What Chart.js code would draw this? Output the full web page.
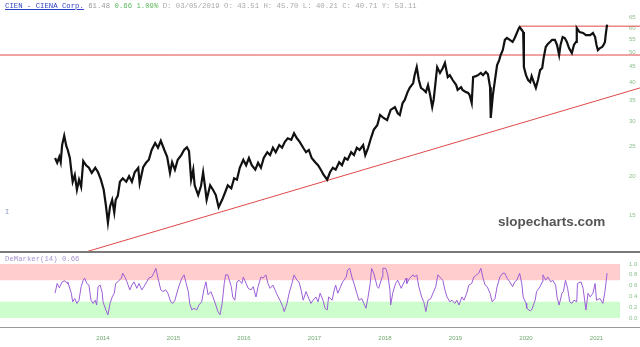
<!DOCTYPE html>
<html><head><meta charset="utf-8">
<script src="https://cdn.jsdelivr.net/npm/chart.js@4.4.1/dist/chart.umd.min.js"></script>
<style>
html,body{margin:0;padding:0;background:#fff}
body{width:640px;height:347px;overflow:hidden;position:relative}
#topWrap{position:absolute;left:0;top:0;width:640px;height:253px}
#botWrap{position:absolute;left:0;top:253px;width:640px;height:94px}
.sep1{position:absolute;left:0;top:251px;width:640px;height:2px;background:#7a7a7a}
.sep2{position:absolute;left:0;top:327px;width:640px;height:1px;background:#9a9a9a}
#hdr{position:absolute;left:5px;top:1px;font:7.3px "Liberation Mono",monospace;white-space:pre;line-height:10px}
#dem{position:absolute;left:5px;top:254px;font:7.3px "Liberation Mono",monospace;white-space:pre;color:#a994d4;line-height:10px}
#wm{position:absolute;left:498px;top:213px;font:bold 13.5px "Liberation Sans",Arial,sans-serif;color:#555;line-height:18px}
#cur{position:absolute;left:5px;top:208px;font:7px "Liberation Mono",monospace;color:#8a93c0}
</style></head>
<body>
<div id="topWrap"><canvas id="top" width="640" height="253"></canvas></div>
<div id="botWrap"><canvas id="bot" width="640" height="94"></canvas></div>
<div class="sep1"></div><div class="sep2"></div>
<div id="hdr"><span style="color:#2b3fc4;text-decoration:underline">CIEN - CIENA Corp.</span> <span style="color:#999">61.48</span> <span style="color:#5cb85c">0.66 1.09%</span> <span style="color:#aaa">D: 03/05/2019 O: 43.51 H: 45.70 L: 40.21 C: 40.71 Y: 53.11</span></div>
<div id="dem">DeMarker(14) 0.66</div>
<div id="wm">slopecharts.com</div>
<div id="cur">I</div>
<script>
// ---- data (decimal years / price) ----
const priceDates = [
2013.32,2013.35,2013.38,2013.40,2013.42,2013.45,2013.48,2013.50,2013.53,2013.56,2013.57,2013.60,2013.63,2013.66,2013.69,2013.72,2013.76,2013.80,2013.84,2013.89,2013.93,2013.97,
2014.01,2014.04,2014.07,2014.10,2014.13,2014.16,2014.18,2014.21,2014.24,2014.28,2014.33,2014.37,2014.41,2014.45,2014.50,2014.52,2014.57,2014.61,2014.65,2014.69,2014.74,2014.78,2014.82,2014.87,2014.91,2014.95,2014.98,
2015.02,2015.06,2015.11,2015.15,2015.19,2015.22,2015.25,2015.28,2015.30,2015.35,2015.39,2015.42,2015.45,2015.47,2015.52,2015.56,2015.60,2015.64,2015.69,2015.73,2015.77,2015.82,2015.86,2015.90,2015.94,2015.99,
2016.03,2016.07,2016.11,2016.16,2016.20,2016.24,2016.28,2016.33,2016.37,2016.41,2016.45,2016.50,2016.54,2016.58,2016.62,2016.67,2016.71,2016.75,2016.79,2016.84,2016.88,2016.92,2016.96,
2017.01,2017.05,2017.09,2017.13,2017.18,2017.22,2017.26,2017.30,2017.35,2017.39,2017.43,2017.47,2017.52,2017.56,2017.60,2017.64,2017.69,2017.72,2017.76,2017.80,2017.84,2017.89,2017.93,2017.98,
2018.03,2018.08,2018.14,2018.18,2018.21,2018.25,2018.28,2018.32,2018.35,2018.40,2018.42,2018.45,2018.48,2018.51,2018.55,2018.58,2018.61,2018.64,2018.67,2018.69,2018.74,2018.78,2018.82,2018.85,2018.89,2018.92,2018.96,
2019.01,2019.03,2019.08,2019.10,2019.15,2019.18,2019.20,2019.23,2019.25,2019.29,2019.32,2019.36,2019.39,2019.43,2019.46,2019.49,2019.50,2019.53,2019.56,2019.59,2019.62,2019.64,2019.67,2019.70,2019.73,2019.77,2019.81,2019.84,2019.87,2019.90,2019.91,2019.94,2019.96,2019.97,
2020.00,2020.03,2020.06,2020.08,2020.11,2020.14,2020.17,2020.20,2020.23,2020.25,2020.28,2020.31,2020.34,2020.37,2020.41,2020.44,2020.47,2020.49,2020.52,2020.55,2020.58,2020.61,2020.65,2020.68,2020.71,2020.72,2020.76,2020.81,2020.85,2020.91,2020.95,2020.98,
2021.00,2021.02,2021.05,2021.08,2021.10,2021.12,2021.13,2021.15
];
const priceValues = [
22.9,22.1,23.1,22.2,25.2,27.0,25.0,24.3,22.9,20.0,19.2,20.2,18.1,19.5,18.5,22.4,21.7,21.3,20.5,21.3,20.6,19.5,
18.1,16.2,14.2,16.0,16.8,15.3,16.8,17.3,19.2,19.7,19.2,20.0,19.2,20.6,21.3,19.0,21.4,22.1,22.6,24.3,25.6,24.7,26.0,24.3,23.1,20.5,22.2,
21.0,22.6,23.4,24.3,24.8,24.1,19.5,21.0,18.7,17.4,18.6,20.6,18.3,16.8,18.7,18.1,17.4,15.9,16.8,17.7,18.7,18.3,19.7,19.5,21.3,22.6,
21.7,22.9,21.7,21.0,22.1,21.3,22.9,23.9,23.4,24.7,23.9,25.2,24.7,25.8,26.5,26.2,27.5,26.5,25.8,24.7,23.9,24.3,22.9,
22.2,21.7,21.0,20.2,19.5,20.6,21.3,21.0,22.2,21.7,22.9,22.6,23.9,23.4,24.7,24.3,25.2,23.4,24.7,26.5,28.2,29.2,31.5,30.8,
30.3,32.7,33.4,31.9,31.5,34.4,35.2,37.3,38.5,39.9,42.3,44.9,40.8,38.5,37.9,37.3,39.3,36.5,33.4,35.2,44.9,43.0,44.6,46.3,41.7,42.3,40.8,
39.3,37.9,38.7,37.9,37.3,37.1,36.5,34.4,41.7,42.0,42.3,43.0,42.3,43.3,42.6,38.7,30.8,36.5,40.8,45.6,47.3,49.1,50.9,54.9,55.7,54.9,54.1,55.7,57.8,60.0,60.4,59.1,58.2,44.9,
42.3,40.8,40.2,42.0,40.2,38.5,40.8,43.9,44.6,48.0,52.1,53.3,54.1,54.9,54.9,52.9,49.1,52.9,56.1,55.7,54.1,51.7,49.8,52.9,54.1,60.0,58.2,57.8,56.9,56.9,57.8,56.1,
52.9,50.9,51.7,52.1,52.9,54.1,56.9,61.48
];
const demDates = [
2013.32,2013.35,2013.38,2013.42,2013.46,2013.49,2013.50,2013.55,2013.57,2013.60,2013.63,2013.66,2013.69,2013.72,2013.74,2013.77,2013.80,2013.83,2013.86,2013.89,2013.91,2013.93,2013.96,2013.99,
2014.00,2014.04,2014.07,2014.10,2014.13,2014.16,2014.18,2014.21,2014.26,2014.28,2014.31,2014.34,2014.38,2014.41,2014.44,2014.48,2014.51,2014.55,2014.58,2014.62,2014.65,2014.69,2014.72,2014.75,2014.78,2014.82,2014.85,2014.89,2014.92,2014.96,2014.99,
2015.02,2015.06,2015.09,2015.12,2015.15,2015.18,2015.21,2015.23,2015.26,2015.29,2015.33,2015.36,2015.40,2015.43,2015.46,2015.49,2015.53,2015.56,2015.60,2015.63,2015.66,2015.69,2015.72,2015.74,2015.77,2015.82,2015.84,2015.87,2015.90,2015.93,2015.97,2015.99,
2016.03,2016.06,2016.10,2016.13,2016.17,2016.20,2016.24,2016.27,2016.31,2016.34,2016.37,2016.41,2016.44,2016.47,2016.51,2016.55,2016.57,2016.61,2016.64,2016.68,2016.71,2016.75,2016.78,2016.81,2016.84,2016.88,2016.91,2016.95,2016.98,
2017.02,2017.05,2017.08,2017.12,2017.15,2017.18,2017.20,2017.25,2017.28,2017.30,2017.33,2017.37,2017.40,2017.45,2017.47,2017.50,2017.53,2017.56,2017.60,2017.63,2017.67,2017.70,2017.73,2017.76,2017.79,2017.81,2017.84,2017.89,2017.91,2017.96,2017.97,
2018.01,2018.04,2018.07,2018.08,2018.11,2018.15,2018.18,2018.23,2018.25,2018.30,2018.31,2018.35,2018.40,2018.42,2018.45,2018.48,2018.52,2018.55,2018.58,2018.61,2018.65,2018.68,2018.72,2018.75,2018.79,2018.82,2018.85,2018.88,2018.92,2018.95,2018.99,
2019.02,2019.05,2019.09,2019.12,2019.16,2019.19,2019.23,2019.26,2019.30,2019.33,2019.36,2019.39,2019.42,2019.45,2019.49,2019.52,2019.56,2019.59,2019.63,2019.67,2019.70,2019.73,2019.77,2019.81,2019.84,2019.87,2019.91,2019.94,2019.96,
2020.00,2020.01,2020.06,2020.08,2020.13,2020.15,2020.20,2020.23,2020.24,2020.28,2020.31,2020.35,2020.38,2020.42,2020.44,2020.47,2020.51,2020.53,2020.56,2020.59,2020.62,2020.65,2020.68,2020.72,2020.73,2020.78,2020.81,2020.85,2020.88,2020.91,2020.95,2020.98,
2021.00,2021.05,2021.09,2021.12,2021.15
];
const demValues = [
0.46,0.64,0.56,0.67,0.69,0.64,0.67,0.46,0.30,0.36,0.27,0.33,0.58,0.70,0.74,0.64,0.61,0.33,0.27,0.33,0.24,0.58,0.61,0.46,
0.30,0.15,0.06,0.27,0.39,0.46,0.64,0.67,0.74,0.83,0.76,0.67,0.52,0.61,0.67,0.55,0.64,0.52,0.58,0.67,0.74,0.76,0.83,0.92,0.74,0.52,0.49,0.52,0.46,0.30,0.27,
0.33,0.52,0.64,0.74,0.80,0.64,0.49,0.27,0.15,0.18,0.15,0.24,0.30,0.52,0.67,0.43,0.49,0.39,0.24,0.12,0.06,0.27,0.64,0.80,0.80,0.58,0.39,0.33,0.67,0.70,0.64,0.76,
0.64,0.55,0.52,0.58,0.39,0.58,0.76,0.74,0.80,0.64,0.55,0.61,0.52,0.43,0.33,0.21,0.12,0.27,0.46,0.64,0.80,0.70,0.67,0.52,0.33,0.49,0.39,0.27,0.33,
0.39,0.30,0.46,0.33,0.18,0.15,0.39,0.33,0.52,0.61,0.46,0.58,0.67,0.76,0.89,0.92,0.76,0.64,0.46,0.33,0.36,0.27,0.18,0.39,0.64,0.92,0.83,0.58,0.55,0.76,0.92,
0.92,0.80,0.52,0.24,0.46,0.64,0.70,0.55,0.61,0.74,0.64,0.74,0.80,0.76,0.80,0.58,0.39,0.30,0.12,0.33,0.36,0.46,0.58,0.80,0.74,0.70,0.52,0.39,0.30,0.33,0.27,
0.33,0.24,0.39,0.33,0.46,0.61,0.64,0.76,0.80,0.83,0.92,0.74,0.61,0.58,0.46,0.30,0.36,0.58,0.76,0.83,0.83,0.74,0.67,0.58,0.67,0.70,0.83,0.64,0.39,
0.27,0.18,0.13,0.15,0.33,0.49,0.58,0.67,0.80,0.70,0.76,0.67,0.70,0.61,0.39,0.24,0.46,0.49,0.70,0.55,0.30,0.27,0.33,0.30,0.64,0.67,0.55,0.15,0.46,0.39,0.46,0.64,
0.33,0.36,0.27,0.49,0.83
];
const priceTicks = [15,20,25,30,35,40,45,50,55,60,65];
const demTicks = [0,0.2,0.4,0.6,0.8,1.0];
const yearTicks = [2014,2015,2016,2017,2018,2019,2020,2021];
const resistanceLevel = 60.8, resistanceFrom = 2019.91;
const supportLevel = 49.1;
const trendDates = [2013.745, 2021.62];
const trendValues = [11.4, 38.5];
const overboughtBand = [0.7, 1.0];
const oversoldBand = [0.0, 0.3];

// ---- layout constants ----
const T0 = 2012.539, PXYR = 70.5;
const fullMax = T0 + 640/PXYR, areaMax = T0 + 620/PXYR;
const tickGreen = '#8cbf8c';
const pts = (xs, ys) => xs.map((x,i)=>({x, y: ys[i]}));
const noPad = ax => { ax.paddingTop = 0; ax.paddingBottom = 0; ax.paddingLeft = 0; ax.paddingRight = 0; };
const red = '#e04848';

new Chart(document.getElementById('top'), {
  type: 'line',
  data: { datasets: [
    { data: pts(priceDates, priceValues), borderColor:'#111', borderWidth:2.2, pointRadius:0, pointHoverRadius:0, tension:0 },
    { data: [{x:resistanceFrom,y:resistanceLevel},{x:fullMax,y:resistanceLevel}], borderColor:red, borderWidth:1, pointRadius:0, pointHoverRadius:0, clip:false },
    { data: [{x:T0,y:supportLevel},{x:fullMax,y:supportLevel}], borderColor:red, borderWidth:1, pointRadius:0, pointHoverRadius:0, clip:false },
    { data: pts(trendDates, trendValues), borderColor:red, borderWidth:1, pointRadius:0, pointHoverRadius:0, clip:false }
  ]},
  options: {
    responsive:false, animation:false, devicePixelRatio:1,
    layout:{padding:0, autoPadding:false},
    plugins:{legend:{display:false}, tooltip:{enabled:false}},
    scales:{
      x:{type:'linear', min:T0, max:areaMax, display:false, bounds:'data'},
      y:{type:'logarithmic', position:'right', min:11.33, max:73.8,
         grid:{display:false, drawTicks:false}, border:{display:false},
         ticks:{padding:9, color:tickGreen, font:{size:6, family:'Liberation Sans'}, callback:v=>String(v)},
         afterBuildTicks: ax => { ax.ticks = priceTicks.map(v=>({value:v})); },
         afterFit: ax => { ax.width = 20; noPad(ax); } }
    }
  }
});

new Chart(document.getElementById('bot'), {
  type: 'line',
  data: { datasets: [
    { data: pts(demDates, demValues), borderColor:'#9b5fd6', borderWidth:1, pointRadius:0, pointHoverRadius:0, tension:0 },
    { data: [{x:T0,y:overboughtBand[1]},{x:areaMax,y:overboughtBand[1]}], borderWidth:0, pointRadius:0, pointHoverRadius:0, fill:{value:overboughtBand[0]}, backgroundColor:'#ffcdcd' },
    { data: [{x:T0,y:oversoldBand[1]},{x:areaMax,y:oversoldBand[1]}], borderWidth:0, pointRadius:0, pointHoverRadius:0, fill:{value:oversoldBand[0]}, backgroundColor:'#cdfccd' }
  ]},
  options: {
    responsive:false, animation:false, devicePixelRatio:1,
    layout:{padding:0, autoPadding:false},
    plugins:{legend:{display:false}, tooltip:{enabled:false}},
    scales:{
      x:{type:'linear', min:T0, max:areaMax, bounds:'data',
         grid:{display:false, drawTicks:false}, border:{display:false},
         ticks:{color:'#6fa86f', font:{size:6, family:'Liberation Sans'}, padding:7, maxRotation:0, autoSkip:false, callback:v=>String(v)},
         afterBuildTicks: ax => { ax.ticks = yearTicks.map(v=>({value:v})); },
         afterFit: ax => { ax.height = 19; noPad(ax); } },
      y:{type:'linear', position:'right', min:-0.185, max:1.204,
         grid:{display:false, drawTicks:false}, border:{display:false},
         ticks:{color:tickGreen, font:{size:6, family:'Liberation Sans'}, padding:9, callback:v=>Number(v).toFixed(1)},
         afterBuildTicks: ax => { ax.ticks = demTicks.map(v=>({value:v})); },
         afterFit: ax => { ax.width = 20; noPad(ax); } }
    }
  }
});
</script>
</body></html>
